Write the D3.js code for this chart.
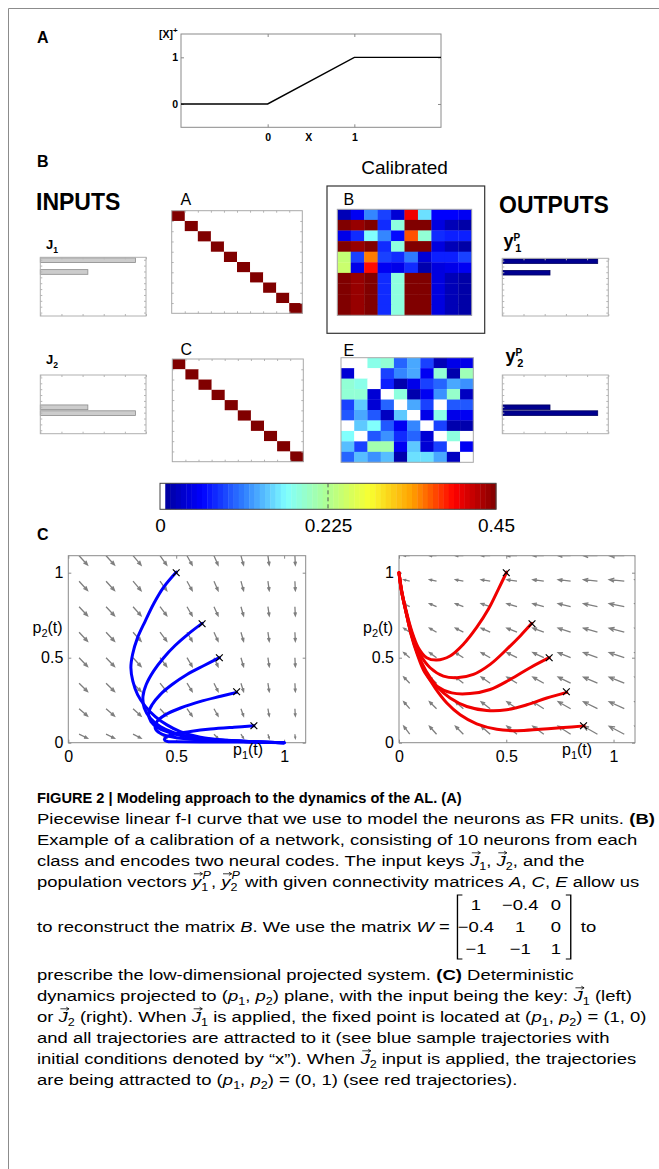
<!DOCTYPE html>
<html>
<head>
<meta charset="utf-8">
<script src="https://cdn.jsdelivr.net/npm/d3@7"></script>
<style>
  body { margin: 0; background: #fff; }
  svg text { font-family: "Liberation Sans", Arial, Helvetica, sans-serif; }
</style>
</head>
<body>
<div id="fig"></div>
<script>
var svgWidth = 659;
var svgHeight = 1169;

// ---------------- data ----------------
// A: piecewise linear f-I curve
var fiX = [-1, 0, 1, 2];
var fiY = [0, 0, 1, 1];
var fiTicks = [0, 1];

// B: input keys and output population vectors (one value per neuron)
var neurons = [1, 2, 3, 4, 5, 6, 7, 8, 9, 10];
var j1Values = [0.9, 0, 0.45, 0, 0, 0, 0, 0, 0, 0];
var j2Values = [0, 0, 0, 0, 0, 0.45, 0.9, 0, 0, 0];
var y1Values = [0.9, 0, 0.45, 0, 0, 0, 0, 0, 0, 0];
var y2Values = [0, 0, 0, 0, 0, 0.45, 0.9, 0, 0, 0];
var barTicks = [0, 0.2, 0.4, 0.6, 0.8, 1];

// connectivity matrices (colour scale 0 .. 0.45)
var matA = [
  [0.45, 0, 0, 0, 0, 0, 0, 0, 0, 0],
  [0, 0.45, 0, 0, 0, 0, 0, 0, 0, 0],
  [0, 0, 0.45, 0, 0, 0, 0, 0, 0, 0],
  [0, 0, 0, 0.45, 0, 0, 0, 0, 0, 0],
  [0, 0, 0, 0, 0.45, 0, 0, 0, 0, 0],
  [0, 0, 0, 0, 0, 0.45, 0, 0, 0, 0],
  [0, 0, 0, 0, 0, 0, 0.45, 0, 0, 0],
  [0, 0, 0, 0, 0, 0, 0, 0.45, 0, 0],
  [0, 0, 0, 0, 0, 0, 0, 0, 0.45, 0],
  [0, 0, 0, 0, 0, 0, 0, 0, 0, 0.45]
];
var matC = [
  [0.45, 0, 0, 0, 0, 0, 0, 0, 0, 0],
  [0, 0.45, 0, 0, 0, 0, 0, 0, 0, 0],
  [0, 0, 0.45, 0, 0, 0, 0, 0, 0, 0],
  [0, 0, 0, 0.45, 0, 0, 0, 0, 0, 0],
  [0, 0, 0, 0, 0.45, 0, 0, 0, 0, 0],
  [0, 0, 0, 0, 0, 0.45, 0, 0, 0, 0],
  [0, 0, 0, 0, 0, 0, 0.45, 0, 0, 0],
  [0, 0, 0, 0, 0, 0, 0, 0.45, 0, 0],
  [0, 0, 0, 0, 0, 0, 0, 0, 0.45, 0],
  [0, 0, 0, 0, 0, 0, 0, 0, 0, 0.45]
];
var matB = [
  [0.02, 0.05, 0.115, 0.085, 0.035, 0.40, 0.155, 0.055, 0.055, 0.05],
  [0.45, 0.44, 0.45, 0.075, 0.185, 0.45, 0.45, 0.04, 0.02, 0.012],
  [0.045, 0.075, 0.17, 0.115, 0.06, 0.365, 0.19, 0.075, 0.07, 0.07],
  [0.45, 0.44, 0.45, 0.075, 0.185, 0.45, 0.45, 0.04, 0.02, 0.012],
  [0.24, 0.085, 0.35, 0.085, 0.075, 0.11, 0.035, 0.07, 0.07, 0.085],
  [0.245, 0.045, 0.39, 0.05, 0.045, 0.075, 0.015, 0.04, 0.045, 0.05],
  [0.45, 0.44, 0.45, 0.075, 0.185, 0.45, 0.45, 0.04, 0.02, 0.012],
  [0.45, 0.44, 0.45, 0.075, 0.185, 0.45, 0.45, 0.04, 0.02, 0.012],
  [0.45, 0.44, 0.45, 0.075, 0.185, 0.45, 0.45, 0.04, 0.02, 0.012],
  [0.45, 0.44, 0.45, 0.075, 0.185, 0.45, 0.45, 0.04, 0.02, 0.012]
];
var matE = [
  [0, 0, 0.18, 0.19, 0.10, 0.13, 0.085, 0.02, 0.045, 0.045],
  [0.035, 0, 0, 0.085, 0.115, 0.13, 0.05, 0.19, 0.015, 0.205],
  [0.19, 0.18, 0, 0.07, 0.015, 0.045, 0.085, 0.10, 0.13, 0.12],
  [0.19, 0.19, 0.035, 0, 0.185, 0.015, 0.05, 0.12, 0.195, 0.025],
  [0.085, 0.145, 0.035, 0.10, 0, 0.13, 0.085, 0, 0.095, 0.095],
  [0.095, 0.13, 0.095, 0.025, 0.145, 0, 0.045, 0.18, 0.045, 0.05],
  [0, 0.145, 0.17, 0.095, 0.05, 0.115, 0, 0.085, 0.015, 0.015],
  [0.17, 0, 0.095, 0.12, 0.075, 0.10, 0.035, 0, 0.185, 0],
  [0.14, 0.085, 0.21, 0.21, 0.05, 0.145, 0.035, 0.085, 0, 0.05],
  [0.10, 0.14, 0.12, 0.14, 0.015, 0.155, 0.155, 0.13, 0.025, 0]
];
var cbTicks = [0, 0.225, 0.45];

// C: direction field sampled on a grid (arrow components in data units)
var qxGrid = [0.05, 0.175, 0.3, 0.425, 0.55, 0.675, 0.8, 0.925, 1.05, 1.175];
var qyGrid = [0.05, 0.2, 0.35, 0.5, 0.65, 0.8, 0.95, 1.1];
var leftU = [0.039, 0.039, 0.037, 0.031, 0.024, 0.019, 0.012, 0.006, 0.002, 0];
var leftV = [0.024, 0.043, 0.049, 0.052, 0.053, 0.053, 0.055, 0.055];
var rightU = [0.028, 0.033, 0.037, 0.042, 0.047, 0.051, 0.058, 0.065, 0.07, 0.075];
var rightV = [0.047, 0.041, 0.036, 0.030, 0.024, 0.018, 0.009, 0];
var phaseTicks = [0, 0.5, 1];

var startPoints = [[0.5, 1], [0.62, 0.7], [0.7, 0.5], [0.78, 0.3], [0.86, 0.1]];

var blueTraj = [
  [[0.501, 1.004], [0.442, 0.915], [0.395, 0.816], [0.357, 0.717], [0.321, 0.618], [0.298, 0.520], [0.290, 0.441], [0.299, 0.362], [0.321, 0.283], [0.357, 0.214], [0.403, 0.154], [0.457, 0.105], [0.519, 0.065], [0.612, 0.032], [0.736, 0.014], [0.860, 0.006], [1.0, 0.0]],
  [[0.620, 0.702], [0.558, 0.642], [0.496, 0.573], [0.442, 0.500], [0.395, 0.421], [0.361, 0.342], [0.346, 0.273], [0.352, 0.204], [0.380, 0.144], [0.426, 0.095], [0.489, 0.059], [0.581, 0.032], [0.705, 0.016], [0.860, 0.006], [1.0, 0.0]],
  [[0.700, 0.500], [0.629, 0.454], [0.550, 0.401], [0.481, 0.342], [0.426, 0.283], [0.388, 0.223], [0.372, 0.174], [0.383, 0.124], [0.419, 0.085], [0.489, 0.052], [0.597, 0.026], [0.737, 0.012], [1.0, 0.0]],
  [[0.780, 0.296], [0.706, 0.273], [0.613, 0.243], [0.520, 0.204], [0.450, 0.164], [0.411, 0.125], [0.403, 0.085], [0.426, 0.056], [0.489, 0.032], [0.613, 0.016], [0.783, 0.008], [1.0, 0.0]],
  [[0.860, 0.099], [0.768, 0.091], [0.659, 0.080], [0.566, 0.066], [0.496, 0.052], [0.457, 0.036], [0.445, 0.020], [0.457, 0.008], [0.504, 0.006], [0.613, 0.004], [0.783, 0.004], [1.0, 0.0]]
];

var redTraj = [
  [[0.502, 1.004], [0.464, 0.905], [0.417, 0.786], [0.362, 0.678], [0.300, 0.579], [0.238, 0.510], [0.176, 0.486], [0.129, 0.500], [0.090, 0.559], [0.059, 0.658], [0.033, 0.777], [0.012, 0.895], [0, 1.0]],
  [[0.619, 0.702], [0.565, 0.628], [0.502, 0.549], [0.425, 0.461], [0.347, 0.402], [0.269, 0.382], [0.207, 0.392], [0.145, 0.441], [0.098, 0.520], [0.064, 0.628], [0.036, 0.757], [0.014, 0.885], [0, 1.0]],
  [[0.700, 0.500], [0.611, 0.441], [0.518, 0.372], [0.425, 0.313], [0.331, 0.289], [0.246, 0.293], [0.176, 0.332], [0.121, 0.411], [0.085, 0.520], [0.056, 0.638], [0.033, 0.767], [0.012, 0.889], [0, 1.0]],
  [[0.782, 0.296], [0.689, 0.263], [0.596, 0.223], [0.502, 0.194], [0.409, 0.190], [0.316, 0.213], [0.238, 0.263], [0.176, 0.332], [0.126, 0.421], [0.085, 0.530], [0.056, 0.644], [0.033, 0.767], [0.012, 0.889], [0, 1.0]],
  [[0.863, 0.099], [0.767, 0.089], [0.658, 0.079], [0.549, 0.071], [0.456, 0.079], [0.362, 0.111], [0.285, 0.164], [0.223, 0.233], [0.168, 0.322], [0.121, 0.421], [0.085, 0.530], [0.056, 0.644], [0.033, 0.767], [0.012, 0.889], [0, 1.0]]
];

// projected connectivity W shown in the caption
var wMatrix = [[1, -0.4, 0], [-0.4, 1, 0], [-1, -1, 1]];

// ---------------- helpers ----------------
var svg = d3.select("#fig")
    .append("svg")
    .attr("width", svgWidth)
    .attr("height", svgHeight);

var jetStops = ["#00008f", "#0000ff", "#3080ff", "#80ffff", "#b0ff90", "#f8ff30", "#ffa000", "#ff0000", "#800000"];
var jet = d3.scaleLinear()
    .domain(jetStops.map(function (c, i) { return i / 8 * 0.45; }))
    .range(jetStops)
    .clamp(true);
function cellColor(v) {
  return v < 0.45 / 64 ? "#ffffff" : jet(v);
}

function cleanAxis(a, col, size, weight) {
  a.attr("font-family", null).attr("font-size", size || null);
  a.select(".domain").remove();
  a.selectAll(".tick line").attr("stroke", col);
  a.selectAll(".tick text").attr("fill", "#000").attr("font-weight", weight || null);
  return a;
}

// frame
svg.append("path")
    .attr("d", "M8.5,1169 V8.5 H659")
    .attr("fill", "none")
    .attr("stroke", "#8c8c8c");

function panelLetter(t, x, y) {
  svg.append("text").attr("x", x).attr("y", y)
      .attr("font-size", 16).attr("font-weight", "bold").text(t);
}
panelLetter("A", 37, 43);
panelLetter("B", 37, 167);
panelLetter("C", 37, 540);

// ---------------- panel A ----------------
var ax = d3.scaleLinear().domain([-1, 2]).range([181, 441]);
var ay = d3.scaleLinear().domain([-0.5, 1.5]).range([127.3, 34]);
var gA = svg.append("g");
var intFmt = d3.format("d");

gA.append("rect")
    .attr("x", ax.range()[0]).attr("y", ay.range()[1])
    .attr("width", ax.range()[1] - ax.range()[0])
    .attr("height", ay.range()[0] - ay.range()[1])
    .attr("fill", "none").attr("stroke", "#8a8a8a");

cleanAxis(gA.append("g").attr("transform", "translate(0," + ay.range()[0] + ")")
    .call(d3.axisBottom(ax).tickValues(fiTicks).tickSize(-3).tickPadding(6).tickFormat(intFmt)), "#8a8a8a", 10.5, "bold");
cleanAxis(gA.append("g").attr("transform", "translate(0," + ay.range()[1] + ")")
    .call(d3.axisTop(ax).tickValues(fiTicks).tickSize(-3).tickFormat("")), "#8a8a8a");
cleanAxis(gA.append("g").attr("transform", "translate(" + ax.range()[0] + ",0)")
    .call(d3.axisLeft(ay).tickValues(fiTicks).tickSize(-3).tickPadding(3).tickFormat(intFmt)), "#8a8a8a", 10.5, "bold");
cleanAxis(gA.append("g").attr("transform", "translate(" + ax.range()[1] + ",0)")
    .call(d3.axisRight(ay).tickValues(fiTicks).tickSize(-3).tickFormat("")), "#8a8a8a");

gA.append("path")
    .datum(fiX.map(function (x, i) { return [x, fiY[i]]; }))
    .attr("d", d3.line().x(function (d) { return ax(d[0]); }).y(function (d) { return ay(d[1]); }))
    .attr("fill", "none").attr("stroke", "#000").attr("stroke-width", 1.4);

var xl = gA.append("text").attr("x", 159).attr("y", 38).attr("font-size", 10.5).attr("font-weight", "bold");
xl.append("tspan").text("[X]");
xl.append("tspan").attr("dy", -5).attr("font-size", 8).text("+");
gA.append("text").attr("x", 308.7).attr("y", 140.7).attr("text-anchor", "middle")
    .attr("font-size", 10.5).attr("font-weight", "bold").text("X");

// ---------------- panel B ----------------
function bigLabel(t, x, y) {
  svg.append("text").attr("x", x).attr("y", y).attr("font-size", 23).attr("font-weight", "bold").text(t);
}
bigLabel("INPUTS", 36, 210);
bigLabel("OUTPUTS", 499, 213);

function keyLabel(main, sub, x, y, size) {
  var t = svg.append("text").attr("x", x).attr("y", y).attr("font-size", size).attr("font-weight", "bold");
  t.append("tspan").text(main);
  t.append("tspan").attr("dy", 4).attr("font-size", size * 0.66).text(sub);
}
keyLabel("J", "1", 46, 249, 13);
keyLabel("J", "2", 46, 363.5, 13);

function popLabel(sub, x, y) {
  var t = svg.append("text").attr("x", x).attr("y", y).attr("font-size", 18).attr("font-weight", "bold");
  t.append("tspan").text("y");
  t.append("tspan").attr("dy", -6).attr("font-size", 10).text("P");
  t.append("tspan").attr("dx", -5).attr("dy", 11).attr("font-size", 11).text(sub);
}
popLabel("1", 503.5, 246.7);
popLabel("2", 505.5, 361.7);

function barBox(values, x0, x1, y0, y1, fill, stroke) {
  var bx = d3.scaleLinear().domain([0, 1]).range([x0, x1]);
  var by = d3.scaleBand().domain(neurons).range([y0, y1]).paddingInner(0.2).paddingOuter(0.1);
  var g = svg.append("g");
  var bars = neurons.map(function (n, i) { return {n: n, v: values[i]}; })
      .filter(function (d) { return d.v > 0; });
  g.selectAll("rect.bar").data(bars).enter().append("rect")
      .attr("class", "bar")
      .attr("x", x0)
      .attr("y", function (d) { return by(d.n); })
      .attr("width", function (d) { return bx(d.v) - x0; })
      .attr("height", by.bandwidth())
      .attr("fill", fill).attr("stroke", stroke).attr("stroke-width", 0.8);
  cleanAxis(g.append("g").attr("transform", "translate(0," + y1 + ")")
      .call(d3.axisBottom(bx).tickValues(barTicks).tickSize(-2).tickFormat("")), "#b5b5b5");
  cleanAxis(g.append("g").attr("transform", "translate(0," + y0 + ")")
      .call(d3.axisTop(bx).tickValues(barTicks).tickSize(-2).tickFormat("")), "#b5b5b5");
  cleanAxis(g.append("g").attr("transform", "translate(" + x0 + ",0)")
      .call(d3.axisLeft(by).tickSize(-2).tickFormat("")), "#b5b5b5");
  cleanAxis(g.append("g").attr("transform", "translate(" + x1 + ",0)")
      .call(d3.axisRight(by).tickSize(-2).tickFormat("")), "#b5b5b5");
  g.append("rect").attr("x", x0).attr("y", y0).attr("width", x1 - x0).attr("height", y1 - y0)
      .attr("fill", "none").attr("stroke", "#b0b0b0");
}
barBox(j1Values, 40.3, 146, 257.3, 316, "#cccccc", "#8c8c8c");
barBox(j2Values, 40.3, 146, 375, 433.7, "#cccccc", "#8c8c8c");
barBox(y1Values, 502.3, 608.3, 258.3, 316, "#00008f", "#000060");
barBox(y2Values, 502.3, 608.3, 375, 433.7, "#00008f", "#000060");

function matrix(data, x0, x1, y0, y1, withTicks) {
  var mx = d3.scaleBand().domain(d3.range(10)).range([x0, x1]);
  var my = d3.scaleBand().domain(d3.range(10)).range([y0, y1]);
  var g = svg.append("g");
  data.forEach(function (row, r) {
    g.selectAll(null).data(row).enter().append("rect")
        .attr("x", function (d, c) { return mx(c); })
        .attr("y", my(r))
        .attr("width", mx.bandwidth() + 0.3)
        .attr("height", my.bandwidth() + 0.3)
        .attr("fill", function (d) { return cellColor(d); });
  });
  if (withTicks) {
    var lx = d3.scaleLinear().domain([0, 10]).range([x0, x1]);
    var ly = d3.scaleLinear().domain([0, 10]).range([y0, y1]);
    var tv = d3.range(1, 10);
    cleanAxis(g.append("g").attr("transform", "translate(0," + y1 + ")")
        .call(d3.axisBottom(lx).tickValues(tv).tickSize(-2).tickFormat("")), "#b5b5b5");
    cleanAxis(g.append("g").attr("transform", "translate(0," + y0 + ")")
        .call(d3.axisTop(lx).tickValues(tv).tickSize(-2).tickFormat("")), "#b5b5b5");
    cleanAxis(g.append("g").attr("transform", "translate(" + x0 + ",0)")
        .call(d3.axisLeft(ly).tickValues(tv).tickSize(-2).tickFormat("")), "#b5b5b5");
    cleanAxis(g.append("g").attr("transform", "translate(" + x1 + ",0)")
        .call(d3.axisRight(ly).tickValues(tv).tickSize(-2).tickFormat("")), "#b5b5b5");
  }
  g.append("rect").attr("x", x0).attr("y", y0).attr("width", x1 - x0).attr("height", y1 - y0)
      .attr("fill", "none").attr("stroke", "#a8a8a8");
}
matrix(matA, 171.7, 302.3, 210.7, 313.3, true);
matrix(matC, 172.3, 303.3, 359, 461.7, true);
matrix(matB, 337.3, 471.7, 209.3, 315.3, false);
matrix(matE, 341, 473.3, 357.7, 462.3, false);

function matLabel(t, x, y) {
  svg.append("text").attr("x", x).attr("y", y).attr("font-size", 16).text(t);
}
matLabel("A", 180.5, 205);
matLabel("B", 343.5, 205);
matLabel("C", 180.5, 355);
matLabel("E", 343.5, 355.5);

// calibrated frame
svg.append("rect").attr("x", 327).attr("y", 186).attr("width", 157.7).attr("height", 147.3)
    .attr("fill", "none").attr("stroke", "#333").attr("stroke-width", 1.2);
svg.append("text").attr("x", 404.5).attr("y", 174).attr("text-anchor", "middle")
    .attr("font-size", 19).text("Calibrated");

// colour bar
var cbScale = d3.scaleLinear().domain([0, 0.45]).range([160, 496]);
var nBands = 64;
var cbTop = 483.3, cbH = 26;
svg.selectAll("rect.cb").data(d3.range(nBands)).enter().append("rect")
    .attr("class", "cb")
    .attr("x", function (k) { return cbScale(k * 0.45 / nBands); })
    .attr("y", cbTop)
    .attr("width", (cbScale.range()[1] - cbScale.range()[0]) / nBands + 0.4)
    .attr("height", cbH)
    .attr("fill", function (k) { return k === 0 ? "#ffffff" : jet((k + 0.5) * 0.45 / nBands); });
svg.append("rect").attr("x", 160).attr("y", cbTop).attr("width", 336).attr("height", cbH)
    .attr("fill", "none").attr("stroke", "#444").attr("stroke-width", 1);
svg.append("line")
    .attr("x1", cbScale(cbTicks[1])).attr("x2", cbScale(cbTicks[1]))
    .attr("y1", cbTop).attr("y2", cbTop + cbH)
    .attr("stroke", "#555").attr("stroke-dasharray", "4,3");
cleanAxis(svg.append("g").attr("transform", "translate(0," + (cbTop + cbH) + ")")
    .call(d3.axisBottom(cbScale).tickValues(cbTicks).tickSize(0).tickPadding(9)
    .tickFormat(function (d) { return String(d); })), "#444", 19);

// ---------------- panel C ----------------
var line = d3.line().curve(d3.curveCatmullRom);

function phasePanel(id, x0, x1, u, v, dirX, dirY, traj, color, p2x, p1x) {
  var sx = d3.scaleLinear().domain([0, 1.1]).range([x0, x1]);
  var sy = d3.scaleLinear().domain([0, 1.1]).range([742.7, 555.7]);
  var g = svg.append("g");

  g.append("clipPath").attr("id", id).append("rect")
      .attr("x", x0).attr("y", 555.7).attr("width", x1 - x0).attr("height", 742.7 - 555.7);

  // direction field
  var arrows = [];
  qxGrid.forEach(function (xv, i) {
    qyGrid.forEach(function (yv, j) {
      arrows.push({x: xv, y: yv, u: dirX * u[i], v: dirY * v[j]});
    });
  });
  g.append("g").attr("clip-path", "url(#" + id + ")")
      .selectAll("path").data(arrows).enter().append("path")
      .attr("d", function (d) {
        var ax1 = sx(d.x), ay1 = sy(d.y), ax2 = sx(d.x + d.u), ay2 = sy(d.y + d.v);
        var dx = ax2 - ax1, dy = ay2 - ay1, len = Math.sqrt(dx * dx + dy * dy);
        if (len < 0.01) return "";
        var h = 0.3 * len + 0.8, ang = Math.atan2(dy, dx), a = 0.38;
        return "M" + ax1 + "," + ay1 + "L" + ax2 + "," + ay2 +
          "M" + (ax2 - h * Math.cos(ang - a)) + "," + (ay2 - h * Math.sin(ang - a)) +
          "L" + ax2 + "," + ay2 +
          "L" + (ax2 - h * Math.cos(ang + a)) + "," + (ay2 - h * Math.sin(ang + a));
      })
      .attr("fill", "none").attr("stroke", "#7f7f7f").attr("stroke-width", 1.3);

  // box and ticks
  g.append("rect").attr("x", x0).attr("y", 555.7).attr("width", x1 - x0).attr("height", 742.7 - 555.7)
      .attr("fill", "none").attr("stroke", "#8a8a8a");
  cleanAxis(g.append("g").attr("transform", "translate(0,742.7)")
      .call(d3.axisBottom(sx).tickValues(phaseTicks).tickSize(-3).tickPadding(8)
      .tickFormat(function (d) { return String(d); })), "#8a8a8a", 16);
  cleanAxis(g.append("g").attr("transform", "translate(0,555.7)")
      .call(d3.axisTop(sx).tickValues(phaseTicks).tickSize(-3).tickFormat("")), "#8a8a8a");
  cleanAxis(g.append("g").attr("transform", "translate(" + x0 + ",0)")
      .call(d3.axisLeft(sy).tickValues(phaseTicks).tickSize(-3).tickPadding(5)
      .tickFormat(function (d) { return String(d); })), "#8a8a8a", 16);
  cleanAxis(g.append("g").attr("transform", "translate(" + x1 + ",0)")
      .call(d3.axisRight(sy).tickValues(phaseTicks).tickSize(-3).tickFormat("")), "#8a8a8a");

  // trajectories
  g.selectAll("path.traj").data(traj).enter().append("path")
      .attr("class", "traj")
      .attr("d", function (d) { return line(d.map(function (p) { return [sx(p[0]), sy(p[1])]; })); })
      .attr("fill", "none").attr("stroke", color).attr("stroke-width", 3)
      .attr("stroke-linecap", "round").attr("stroke-linejoin", "round");

  // initial conditions
  g.selectAll("path.ic").data(startPoints).enter().append("path")
      .attr("class", "ic")
      .attr("d", function (d) {
        var cx = sx(d[0]), cy = sy(d[1]), r = 3.4;
        return "M" + (cx - r) + "," + (cy - r) + "L" + (cx + r) + "," + (cy + r) +
          "M" + (cx - r) + "," + (cy + r) + "L" + (cx + r) + "," + (cy - r);
      })
      .attr("stroke", "#000").attr("stroke-width", 1.2);

  // axis labels
  var t2 = g.append("text").attr("x", p2x).attr("y", 633).attr("font-size", 16);
  t2.append("tspan").text("p");
  t2.append("tspan").attr("dy", 4).attr("font-size", 11).text("2");
  t2.append("tspan").attr("dy", -4).text("(t)");
  var t1 = g.append("text").attr("x", p1x).attr("y", 755).attr("font-size", 16);
  t1.append("tspan").text("p");
  t1.append("tspan").attr("dy", 4).attr("font-size", 11).text("1");
  t1.append("tspan").attr("dy", -4).text("(t)");
}
phasePanel("clipL", 68.3, 305.7, leftU, leftV, 1, -1, blueTraj, "#0000ff", 32.5, 233);
phasePanel("clipR", 399, 635, rightU, rightV, -1, 1, redTraj, "#f00000", 363, 562);

// ---------------- caption ----------------
var capFont = '"Liberation Sans", Arial, sans-serif';
var capSize = 15;
var capX = 37;

function Jv(n) { return {t: "J", i: true, vec: true, sub: n}; }
function Yv(n) { return {t: "y", i: true, vec: true, sub: n, sup: "P"}; }
function Pp(n) { return {t: "p", i: true, sub: n}; }
function It(s) { return {t: s, i: true}; }
function Bd(s) { return {t: s, b: true}; }

var capLines = [
  [Bd("FIGURE 2 | Modeling approach to the dynamics of the AL. (A)")],
  ["Piecewise linear f-I curve that we use to model the neurons as FR units. ", Bd("(B)")],
  ["Example of a calibration of a network, consisting of 10 neurons from each"],
  ["class and encodes two neural codes. The input keys ", Jv("1"), ", ", Jv("2"), ", and the"],
  ["population vectors ", Yv("1"), ", ", Yv("2"), " with given connectivity matrices ", It("A"), ", ", It("C"), ", ", It("E"), " allow us"],
  ["to reconstruct the matrix ", It("B"), ". We use the matrix ", It("W"), " = ", {matrix: wMatrix}, " to"],
  ["prescribe the low-dimensional projected system. ", Bd("(C)"), " Deterministic"],
  ["dynamics projected to (", Pp("1"), ", ", Pp("2"), ") plane, with the input being the key: ", Jv("1"), " (left)"],
  ["or ", Jv("2"), " (right). When ", Jv("1"), " is applied, the fixed point is located at (", Pp("1"), ", ", Pp("2"), ") = (1, 0)"],
  ["and all trajectories are attracted to it (see blue sample trajectories with"],
  ["initial conditions denoted by \u201Cx\u201D). When ", Jv("2"), " input is applied, the trajectories"],
  ["are being attracted to (", Pp("1"), ", ", Pp("2"), ") = (0, 1) (see red trajectories)."]
];
var capBaselines = [803, 824, 845, 866, 887, 932, 980, 1001, 1022, 1043, 1064, 1085];
var titleEnd = 462;   // right end of the bold title line
var bodyEnd = 655;    // right end of the longest body line

function capText(g, x, y, s, size) {
  return g.append("text").attr("x", x).attr("y", y)
      .attr("font-size", size).style("font-family", capFont).style("white-space", "pre").text(s);
}

function drawMatrix(g, m, x, y) {
  var colX = [17, 53, 82];
  var rowDy = [-22, 0, 22];
  m.forEach(function (row, r) {
    row.forEach(function (v, c) {
      capText(g, x + colX[c], y + rowDy[r], String(v).replace("-", "\u2212"), capSize)
          .attr("text-anchor", "middle");
    });
  });
  var top = y - 37, bot = y + 27;
  g.append("path")
      .attr("d", "M" + (x + 6) + "," + top + "H" + (x + 2) + "V" + bot + "H" + (x + 6) +
        "M" + (x + 90) + "," + top + "H" + (x + 94) + "V" + bot + "H" + (x + 90))
      .attr("fill", "none").attr("stroke", "#000").attr("stroke-width", 1.1);
  return 98;
}

function rich(g, parts, x, y) {
  var cx = x;
  parts.forEach(function (p) {
    if (typeof p === "string") p = {t: p};
    if (p.matrix) { cx += drawMatrix(g, p.matrix, cx, y); return; }
    var t = capText(g, cx, y, p.t, capSize)
        .attr("font-weight", p.b ? "bold" : null)
        .attr("font-style", p.i ? "italic" : null);
    var w = t.node().getComputedTextLength();
    if (p.vec) {
      var ay1 = y - capSize * 0.88, xa = cx + 1.5, xb = cx + w + 1;
      g.append("path")
          .attr("d", "M" + xa + "," + ay1 + "H" + xb + "M" + (xb - 2.2) + "," + (ay1 - 1.6) + "L" + xb + "," + ay1 + "L" + (xb - 2.2) + "," + (ay1 + 1.6))
          .attr("fill", "none").attr("stroke", "#000").attr("stroke-width", 0.7);
    }
    var extra = 0;
    if (p.sub) {
      var s1 = capText(g, cx + w, y + 4.5, p.sub, capSize * 0.68);
      extra = Math.max(extra, s1.node().getComputedTextLength());
    }
    if (p.sup) {
      var s2 = capText(g, cx + w + 1, y - 7.5, p.sup, capSize * 0.68).attr("font-style", "italic");
      extra = Math.max(extra, s2.node().getComputedTextLength() + 1);
    }
    cx += w + extra;
  });
  return cx - x;
}

var capGroups = capLines.map(function (parts, i) {
  var g = svg.append("g");
  return {g: g, w: rich(g, parts, capX, capBaselines[i])};
});
// one horizontal scale for every body line (same typeface), its own for the title
var bodyK = (bodyEnd - capX) / capGroups[1].w;
capGroups.forEach(function (c, i) {
  var k = i === 0 ? (titleEnd - capX) / c.w : bodyK;
  c.g.attr("transform", "translate(" + capX + ",0) scale(" + k + ",1) translate(" + (-capX) + ",0)");
});
</script>
</body>
</html>
